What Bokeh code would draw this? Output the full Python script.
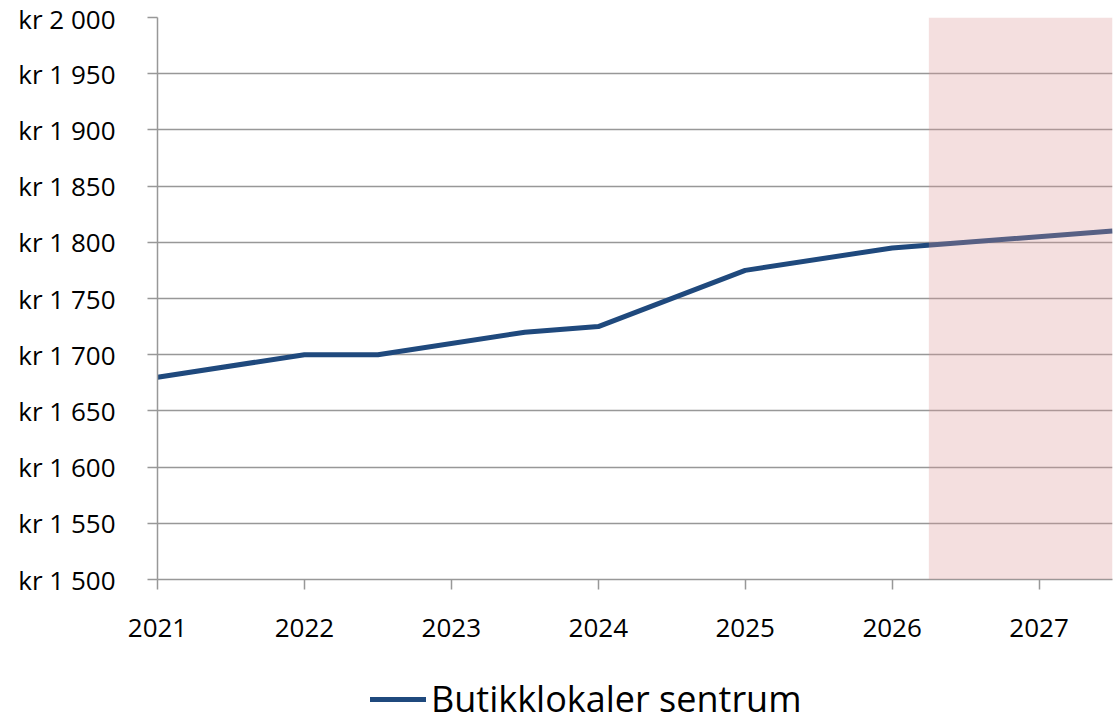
from bokeh.plotting import figure
from bokeh.layouts import column
from bokeh.models import (Range1d, FixedTicker, CustomJSTickFormatter, BoxAnnotation,
                          Legend, LegendItem)
from bokeh.embed import file_html
from bokeh.resources import INLINE

# data
years = [2021, 2022, 2022.5, 2023.5, 2024, 2025, 2026, 2027.5]
rent = [1680, 1700, 1700, 1720, 1725, 1775, 1795, 1810]
series_name = "Butikklokaler sentrum"
x_ticks = [2021, 2022, 2023, 2024, 2025, 2026, 2027]
y_ticks = list(range(1500, 2001, 50))
forecast_start = 2026.25
x_end = 2027.5

FONT = "Open Sans"
GRAY = "#989898"
LINE = "#1F497D"

p = figure(width=1114, height=647, output_backend="svg", toolbar_location=None,
           x_range=Range1d(2021, x_end), y_range=Range1d(1500, 2000),
           min_border_left=157, min_border_top=17, min_border_right=2,
           min_border_bottom=68)
p.outline_line_color = None
p.background_fill_color = "white"
p.border_fill_color = "white"

r = p.line(years, rent, line_color=LINE, line_width=5, line_join="round")

p.add_layout(BoxAnnotation(left=forecast_start, right=x_end,
                           fill_color="#DA9694", fill_alpha=0.3, line_color=None))

p.xaxis.ticker = FixedTicker(ticks=x_ticks)
p.yaxis.ticker = FixedTicker(ticks=y_ticks)
p.yaxis.formatter = CustomJSTickFormatter(code="""
    const s = Math.round(tick).toString();
    return 'kr ' + s.slice(0, s.length-3) + ' ' + s.slice(s.length-3);
""")
for ax in (p.xaxis[0], p.yaxis[0]):
    ax.axis_line_color = GRAY
    ax.axis_line_width = 1.5
    ax.major_tick_line_color = GRAY
    ax.major_tick_line_width = 1.5
    ax.major_tick_out = 10
    ax.major_tick_in = 0
    ax.minor_tick_line_color = None
    ax.major_label_text_font = FONT
    ax.major_label_text_font_size = "26px"
    ax.major_label_text_color = "black"
p.xaxis.major_label_standoff = 29
p.yaxis.major_label_standoff = 32

p.xgrid.grid_line_color = None
p.ygrid.grid_line_color = GRAY
p.ygrid.grid_line_width = 1.5

# legend strip below the chart (its line lies outside the strip's view)
q = figure(width=1114, height=76, output_backend="svg", toolbar_location=None,
           x_range=Range1d(0, 1), y_range=Range1d(0, 1),
           x_axis_location=None, y_axis_location=None,
           min_border_left=0, min_border_right=0, min_border_top=0, min_border_bottom=0)
q.grid.visible = False
q.outline_line_color = None
lr = q.line(years, rent, line_color=LINE, line_width=5, line_cap="round")
legend = Legend(items=[LegendItem(label=series_name, renderers=[lr])],
                orientation="horizontal", location=(213, 0),
                label_text_font=FONT, label_text_font_size="36px",
                label_text_color="black",
                glyph_width=56, glyph_height=30, label_standoff=5,
                border_line_color=None, background_fill_alpha=0,
                margin=0, padding=0)
q.add_layout(legend, "center")

open("out.html", "w").write(file_html(column(p, q, spacing=0), INLINE))
